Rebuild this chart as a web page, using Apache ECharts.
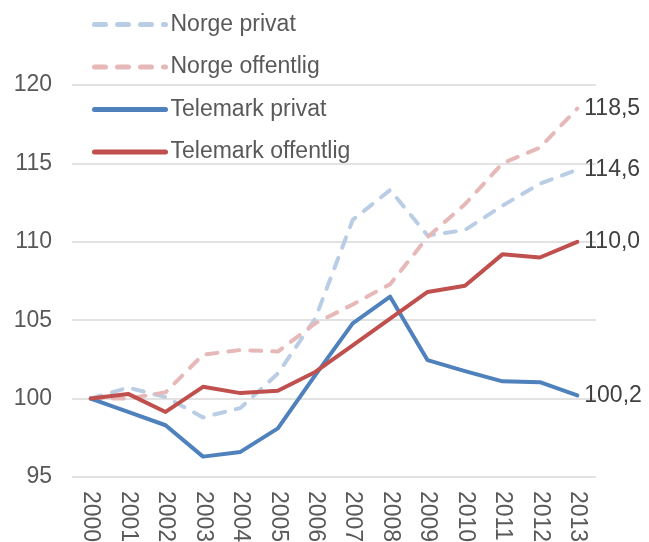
<!DOCTYPE html>
<html lang="no">
<head>
  <meta charset="UTF-8">
  <title>Telemark</title>
  <style>
    html, body { margin: 0; padding: 0; width: 100%; height: 100%; background: #fff; }
    #main { width: 649px; height: 542px; }
  </style>
  <script src="https://cdn.jsdelivr.net/npm/echarts@6/dist/echarts.min.js"></script>
</head>
<body>
<div id="main"></div>
<script>
  // data
  var years = ['2000', '2001', '2002', '2003', '2004', '2005', '2006',
               '2007', '2008', '2009', '2010', '2011', '2012', '2013'];
  var norgePrivat = [100, 100.7, 100.1, 98.8, 99.4, 101.6, 105.1, 111.4, 113.3, 110.4, 110.75, 112.3, 113.7, 114.6];
  var norgeOffentlig = [100, 100.0, 100.4, 102.8, 103.1, 103.0, 104.8, 106.0, 107.3, 110.3, 112.4, 115.0, 116.0, 118.5];
  var telemarkPrivat = [100, 99.15, 98.3, 96.3, 96.6, 98.1, 101.5, 104.8, 106.5, 102.45, 101.75, 101.1, 101.05, 100.2];
  var telemarkOffentlig = [100, 100.3, 99.15, 100.75, 100.35, 100.5, 101.7, 103.4, 105.1, 106.8, 107.2, 109.2, 109.0, 110.0];

  var font = 'Liberation Sans, Arial, sans-serif';
  var chart = echarts.init(document.getElementById('main'));

  var colors = {
    'Norge privat': '#b9cde5',
    'Norge offentlig': '#e6b9b8',
    'Telemark privat': '#4f81bd',
    'Telemark offentlig': '#c0504d'
  };

  function line(name, data, dashed) {
    return {
      name: name,
      type: 'line',
      data: data,
      symbol: 'none',
      lineStyle: {
        color: colors[name],
        width: 4,
        type: dashed ? [11, 11] : 'solid',
        cap: 'round',
        join: 'round'
      },
      itemStyle: { color: colors[name] },
      endLabel: {
        show: true,
        distance: 7,
        color: '#404040',
        fontSize: 23,
        fontFamily: font,
        formatter: function (p) { return p.value.toFixed(1).replace('.', ','); }
      },
      animation: false
    };
  }

  function legendItem(name, dashed) {
    return {
      name: name,
      itemStyle: { opacity: 0 },
      lineStyle: {
        color: colors[name],
        width: 5,
        opacity: 1,
        type: dashed ? [11, 12] : 'solid',
        cap: 'round'
      }
    };
  }

  var option = {
    backgroundColor: '#fff',
    grid: { left: 72, right: 53, top: 85, bottom: 65, outerBoundsMode: 'none' },
    legend: {
      orient: 'vertical',
      left: 87,
      top: 8,
      itemWidth: 71,
      itemHeight: 20,
      itemGap: 19.5,
      textStyle: { color: '#595959', fontSize: 23, fontFamily: font },
      data: [
        legendItem('Norge privat', true),
        legendItem('Norge offentlig', true),
        legendItem('Telemark privat', false),
        legendItem('Telemark offentlig', false)
      ]
    },
    xAxis: {
      type: 'category',
      data: years,
      boundaryGap: true,
      axisLine: { show: false },
      axisTick: { show: false },
      axisLabel: {
        rotate: -90,
        margin: 14,
        color: '#595959',
        fontSize: 23,
        fontFamily: font
      }
    },
    yAxis: {
      type: 'value',
      min: 95,
      max: 120,
      interval: 5,
      axisLine: { show: false },
      axisTick: { show: false },
      splitLine: { lineStyle: { color: '#d9d9d9', width: 1.5 } },
      axisLabel: {
        margin: 20,
        color: '#595959',
        fontSize: 23,
        fontFamily: font
      }
    },
    series: [
      line('Norge privat', norgePrivat, true),
      line('Norge offentlig', norgeOffentlig, true),
      line('Telemark privat', telemarkPrivat, false),
      line('Telemark offentlig', telemarkOffentlig, false)
    ]
  };
  chart.setOption(option);
</script>
</body>
</html>
